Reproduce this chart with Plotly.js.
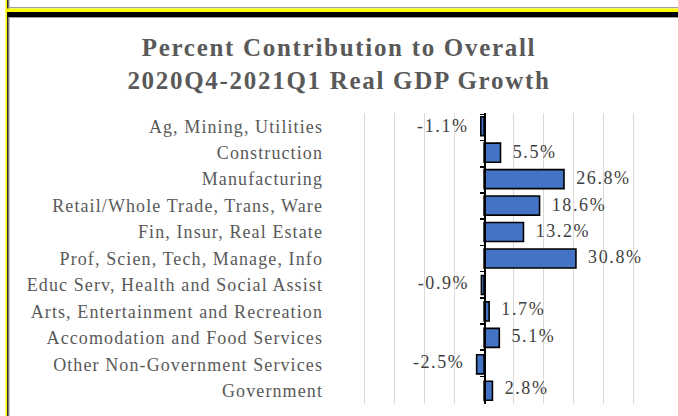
<!DOCTYPE html>
<html>
<head>
<meta charset="utf-8">
<script src="https://cdn.plot.ly/plotly-3.0.1.min.js"></script>
<style>
html,body{margin:0;padding:0;background:#fff;}
#chart{width:678px;height:416px;}
#chart .ytick text{letter-spacing:1.1px;}
#chart .textpoint text{letter-spacing:1.6px;}
#chart .gtitle{letter-spacing:1.7px;}
</style>
</head>
<body>
<div id="chart"></div>
<script>
const categories = [
  "Ag, Mining, Utilities",
  "Construction",
  "Manufacturing",
  "Retail/Whole Trade, Trans, Ware",
  "Fin, Insur, Real Estate",
  "Prof, Scien, Tech, Manage, Info",
  "Educ Serv, Health and Social Assist",
  "Arts, Entertainment and Recreation",
  "Accomodation and Food Services",
  "Other Non-Government Services",
  "Government"
];
const values = [-1.1, 5.5, 26.8, 18.6, 13.2, 30.8, -0.9, 1.7, 5.1, -2.5, 2.8];
const xRange = [-50, 60];

const W = 678, H = 416;
const M = {l: 335, r: 15, t: 113, b: 12};
const PW = W - M.l - M.r, PH = H - M.t - M.b;
function fx(px) { return (px - M.l) / PW; }
function fy(py) { return (H - M.b - py) / PH; }
function rect(x0, y0, x1, y1, color) {
  return {type: 'rect', xref: 'paper', yref: 'paper', x0: fx(x0), x1: fx(x1), y0: fy(y1), y1: fy(y0),
          fillcolor: color, line: {width: 0}, layer: 'above'};
}

const serif = "Liberation Serif, Times New Roman, serif";
const labels = values.map(v => {
  const s = v.toFixed(1) + '%';
  return v >= 0 ? '\u00a0\u00a0' + s : s + '\u00a0\u00a0';
});
const labelPos = values.map(v => v >= 0 ? 'middle right' : 'middle left');

const traces = [
  {
    type: 'bar', orientation: 'h', x: values, y: categories,
    marker: {color: '#4472C4', line: {color: '#000000', width: 1.6}},
    width: 0.72,
    hoverinfo: 'none'
  },
  {
    type: 'scatter', mode: 'text', x: values, y: categories, yaxis: 'y2',
    text: labels, textposition: labelPos, cliponaxis: false,
    textfont: {family: serif, size: 18, color: '#404040'},
    hoverinfo: 'none', showlegend: false
  }
];

const layout = {
  width: W, height: H,
  margin: M,
  paper_bgcolor: '#ffffff', plot_bgcolor: '#ffffff',
  showlegend: false,
  title: {
    text: '<b>Percent Contribution to Overall<br>2020Q4-2021Q1 Real GDP Growth</b>',
    font: {family: serif, size: 25, color: '#595959'},
    xref: 'container', x: 0.5, xanchor: 'center',
    yref: 'container', y: 1 - 56 / H, yanchor: 'top'
  },
  xaxis: {
    range: xRange, dtick: 10, tick0: 0,
    showgrid: true, gridcolor: '#D9D9D9', gridwidth: 1,
    zeroline: false, showticklabels: false, ticks: '', showline: false, fixedrange: true
  },
  yaxis: {
    type: 'category', categoryorder: 'array', categoryarray: categories,
    autorange: 'reversed', showgrid: false, zeroline: false, showline: false,
    ticks: '', ticklabelstandoff: 11,
    tickfont: {family: serif, size: 18, color: '#595959'}, fixedrange: true
  },
  yaxis2: {
    type: 'category', categoryorder: 'array', categoryarray: categories,
    overlaying: 'y', anchor: 'free', side: 'left',
    position: (0 - xRange[0]) / (xRange[1] - xRange[0]),
    autorange: 'reversed', showgrid: false, zeroline: false,
    showline: true, linecolor: '#000000', linewidth: 1.5,
    ticks: 'outside', ticklen: 4, tickwidth: 1.5, tickcolor: '#000000', tickson: 'boundaries',
    showticklabels: false, fixedrange: true
  },
  shapes: [
    rect(5.5, 0, 7.2, H, '#FFFF00'),
    rect(7.2, 0, 8.6, H, '#000000'),
    rect(8.6, 0, 9.6, H, '#A0A0A0'),
    rect(9, 7, W, 8.2, '#A0A0A0'),
    rect(5.5, 8.6, W, 12, '#FFFF00'),
    rect(7.2, 12, W, 17, '#000000'),
    rect(8.6, 17, W, 18, '#A0A0A0')
  ]
};

Plotly.newPlot('chart', traces, layout, {staticPlot: true, displayModeBar: false});
</script>
</body>
</html>
